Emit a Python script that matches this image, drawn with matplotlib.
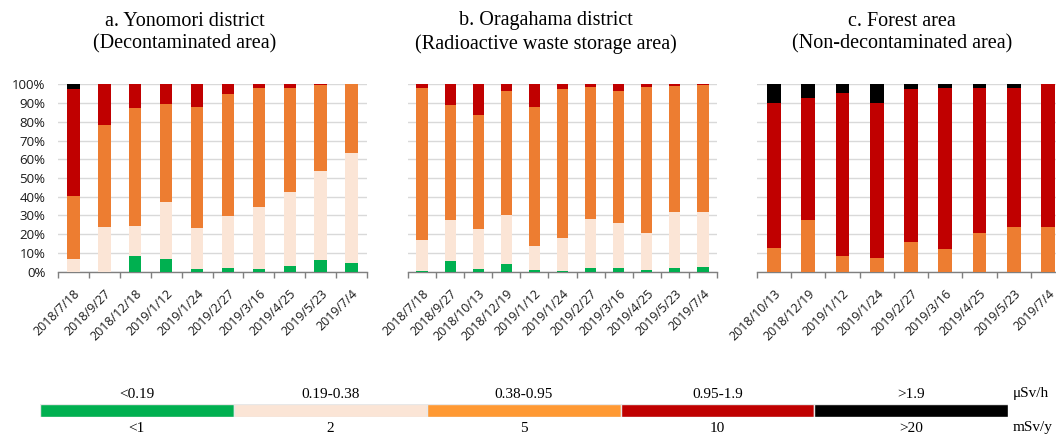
import matplotlib
matplotlib.use("Agg")
import matplotlib.pyplot as plt
import numpy as np

W, H = 1056, 437
DPI = 100

# ---------------- data (percent shares) ----------------
cats_a = ["2018/7/18", "2018/9/27", "2018/12/18", "2019/1/12", "2019/1/24",
          "2019/2/27", "2019/3/16", "2019/4/25", "2019/5/23", "2019/7/4"]
green_a = [0.0, 0.0, 8.4, 6.9, 1.6, 2.1, 1.2, 3.2, 6.2, 4.6]
light_a = [7.0, 23.8, 16.0, 30.1, 21.5, 27.6, 33.5, 39.1, 47.4, 58.6]
orange_a = [33.6, 54.5, 62.8, 52.5, 64.6, 65.1, 63.2, 55.6, 45.9, 36.8]
red_a = [57.1, 21.7, 12.8, 10.5, 12.3, 5.2, 2.1, 2.1, 0.5, 0.0]
black_a = [2.3, 0.0, 0.0, 0.0, 0.0, 0.0, 0.0, 0.0, 0.0, 0.0]

cats_b = ["2018/7/18", "2018/9/27", "2018/10/13", "2018/12/19", "2019/1/12",
          "2019/1/24", "2019/2/27", "2019/3/16", "2019/4/25", "2019/5/23", "2019/7/4"]
green_b = [0.5, 5.7, 1.4, 4.1, 0.7, 0.5, 1.8, 1.8, 0.7, 1.8, 2.3]
light_b = [16.3, 21.9, 21.2, 26.3, 12.9, 17.7, 26.1, 24.3, 20.1, 30.0, 29.7]
orange_b = [81.1, 61.1, 61.0, 66.1, 74.4, 79.3, 70.7, 70.5, 77.8, 67.3, 67.6]
red_b = [2.1, 11.3, 16.4, 3.5, 12.0, 2.5, 1.4, 3.4, 1.4, 0.9, 0.4]
black_b = [0.0] * 11

cats_c = ["2018/10/13", "2018/12/19", "2019/1/12", "2019/1/24", "2019/2/27",
          "2019/3/16", "2019/4/25", "2019/5/23", "2019/7/4"]
green_c = [0.0] * 9
light_c = [0.0] * 9
orange_c = [12.4, 27.8, 8.3, 7.1, 15.6, 12.2, 20.4, 23.7, 23.7]
red_c = [77.5, 65.1, 86.9, 82.8, 81.9, 85.9, 77.8, 74.4, 76.3]
black_c = [10.1, 7.1, 4.8, 10.1, 2.5, 1.9, 1.8, 1.9, 0.0]

titles = [("a. Yonomori district", "(Decontaminated area)"),
          ("b. Oragahama district", "(Radioactive waste storage area)"),
          ("c. Forest area", "(Non-decontaminated area)")]

legend_uSv = ["<0.19", "0.19-0.38", "0.38-0.95", "0.95-1.9", ">1.9"]
legend_mSv = ["<1", "2", "5", "10", ">20"]

# ---------------- styles ----------------
C_GREEN, C_LIGHT, C_ORANGE, C_RED, C_BLACK = "#00B050", "#FBE5D6", "#ED7D31", "#C00000", "#000000"
LEG_COLORS = ["#00B050", "#FBE5D6", "#FF9933", "#C00000", "#000000"]
SERIF = "Liberation Serif"
SANS = "Open Sans"

fig = plt.figure(figsize=(W / DPI, H / DPI), dpi=DPI)


def px_axes(left, top, right, bottom):
    return fig.add_axes([left / W, 1 - bottom / H, (right - left) / W, (bottom - top) / H])


panels = [
    (58, 367, cats_a, [green_a, light_a, orange_a, red_a, black_a], True, 185),
    (408, 717, cats_b, [green_b, light_b, orange_b, red_b, black_b], False, 546),
    (757, 1065, cats_c, [green_c, light_c, orange_c, red_c, black_c], False, 902),
]
colors = [C_GREEN, C_LIGHT, C_ORANGE, C_RED, C_BLACK]

for (l, r, cats, series, show_y, tx), (t1, t2) in zip(panels, titles):
    ax = px_axes(l, 84.3, r, 271.7)
    n = len(cats)
    x = np.arange(n)
    bottom = np.zeros(n)
    for vals, col in zip(series, colors):
        v = np.array(vals)
        ax.bar(x, v, width=0.4, bottom=bottom, color=col, edgecolor="none", zorder=3)
        bottom += v
    ax.set_xlim(-0.5, n - 0.5)
    ax.set_ylim(0, 100)
    ax.set_yticks(np.arange(0, 101, 10))
    ax.yaxis.grid(True, color="#D9D9D9", linewidth=1.0, zorder=0)
    ax.set_axisbelow(True)
    for s in ["left", "right", "top"]:
        ax.spines[s].set_visible(False)
    ax.spines["bottom"].set_color("#7F7F7F")
    ax.spines["bottom"].set_linewidth(1.0)
    ax.tick_params(axis="y", length=0, pad=9, labelsize=9.5, labelcolor="#1a1a1a")
    if show_y:
        ax.set_yticklabels([f"{v}%" for v in range(0, 101, 10)], fontfamily=SANS)
    else:
        ax.set_yticklabels([])
    ax.set_xticks(x)
    ax.set_xticklabels(cats, rotation=45, ha="right", va="top", rotation_mode="anchor",
                       fontfamily=SANS, fontsize=9, color="#1a1a1a")
    ax.tick_params(axis="x", which="major", length=0, pad=11)
    ax.set_xticks(np.arange(-0.5, n, 1.0), minor=True)
    ax.tick_params(axis="x", which="minor", length=4, color="#7F7F7F", width=1.0, direction="out")
    fig.text(tx / W, 1 - 21 / H, t1, ha="center", va="center", fontfamily=SERIF, fontsize=14.5)
    fig.text(tx / W, 1 - 44 / H, t2, ha="center", va="center", fontfamily=SERIF, fontsize=14.5)

# ---------------- colour-scale legend ----------------
lax = px_axes(40, 404, 1008, 417)
nseg = len(LEG_COLORS)
lax.barh([0] * nseg, [1] * nseg, left=np.arange(nseg), height=1.0, color=LEG_COLORS,
         edgecolor="#E8E8E8", linewidth=1.0)
lax.set_xlim(0, nseg)
lax.set_ylim(-0.5, 0.5)
lax.axis("off")
seg_w = (1008 - 40) / nseg
for i in range(nseg):
    cx = 40 + seg_w * (i + 0.5)
    fig.text(cx / W, 1 - 394 / H, legend_uSv[i], ha="center", va="center", fontfamily=SERIF, fontsize=11)
    fig.text(cx / W, 1 - 428 / H, legend_mSv[i], ha="center", va="center", fontfamily=SERIF, fontsize=11)
fig.text(1013 / W, 1 - 394 / H, "\u03bcSv/h", ha="left", va="center", fontfamily=SERIF, fontsize=11)
fig.text(1013 / W, 1 - 428 / H, "mSv/y", ha="left", va="center", fontfamily=SERIF, fontsize=11)

fig.savefig("out.png", dpi=DPI)
